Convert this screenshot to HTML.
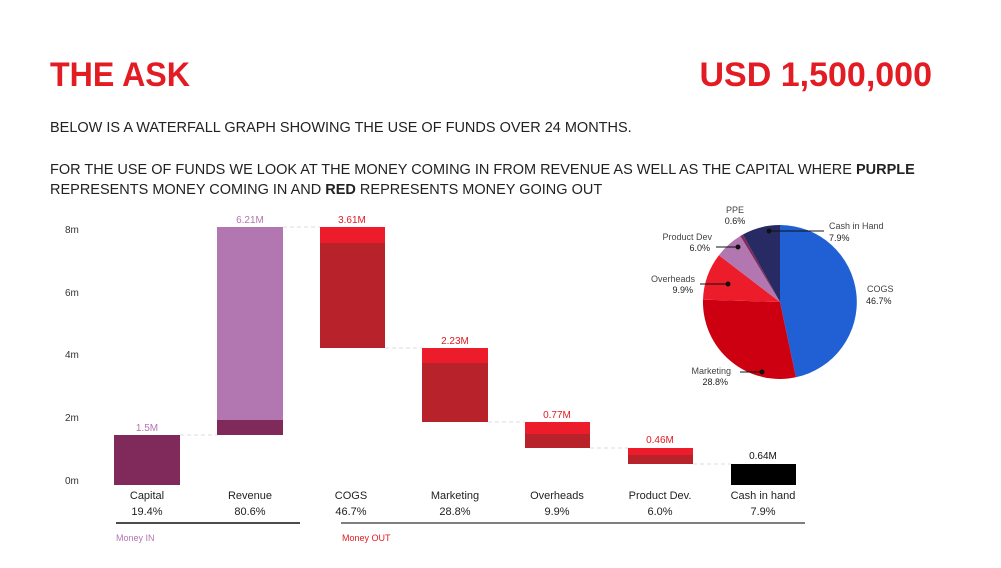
<!DOCTYPE html>
<html><head><meta charset="utf-8"><style>
body{margin:0;background:#fff;width:1001px;height:563px;overflow:hidden;font-family:"Liberation Sans",sans-serif}
</style></head><body>
<svg width="1001" height="563" xmlns="http://www.w3.org/2000/svg" font-family="Liberation Sans, sans-serif">
<text x="50" y="86" font-size="34" fill="#e31b23" font-weight="bold" textLength="140" lengthAdjust="spacingAndGlyphs">THE ASK</text>
<text x="932" y="86" font-size="34" fill="#e31b23" font-weight="bold" text-anchor="end">USD 1,500,000</text>
<text x="50" y="132" font-size="14.5" fill="#222">BELOW IS A WATERFALL GRAPH SHOWING THE USE OF FUNDS OVER 24 MONTHS.</text>
<text x="50" y="174" font-size="14.5" fill="#222">FOR THE USE OF FUNDS WE LOOK AT THE MONEY COMING IN FROM REVENUE AS WELL AS THE CAPITAL WHERE <tspan font-weight="bold">PURPLE</tspan></text>
<text x="50" y="194" font-size="14.5" fill="#222">REPRESENTS MONEY COMING IN AND <tspan font-weight="bold">RED</tspan> REPRESENTS MONEY GOING OUT</text>
<g font-size="10" fill="#333">
<text x="65" y="233">8m</text><text x="65" y="296">6m</text><text x="65" y="358">4m</text><text x="65" y="421">2m</text><text x="65" y="484">0m</text>
</g>
<g stroke="#ddd" stroke-dasharray="4,3" stroke-width="1">
<line x1="180" y1="435" x2="217" y2="435"/><line x1="283" y1="227" x2="320" y2="227"/>
<line x1="385" y1="348" x2="422" y2="348"/><line x1="488" y1="422" x2="525" y2="422"/>
<line x1="590" y1="448" x2="628" y2="448"/><line x1="693" y1="464" x2="731" y2="464"/>
</g>
<rect x="114" y="435" width="66" height="50" fill="#7f2a5b"/>
<rect x="217" y="227" width="66" height="193" fill="#b277b1"/>
<rect x="217" y="420" width="66" height="15" fill="#7f2a5b"/>
<rect x="320" y="227" width="65" height="121" fill="#b8232b"/>
<rect x="320" y="227" width="65" height="16" fill="#ec1c2a"/>
<rect x="422" y="348" width="66" height="74" fill="#b8232b"/>
<rect x="422" y="348" width="66" height="15" fill="#ec1c2a"/>
<rect x="525" y="422" width="65" height="26" fill="#b8232b"/>
<rect x="525" y="422" width="65" height="12" fill="#ec1c2a"/>
<rect x="628" y="448" width="65" height="16" fill="#b8232b"/>
<rect x="628" y="448" width="65" height="7" fill="#ec1c2a"/>
<rect x="731" y="464" width="65" height="21" fill="#000"/>
<g font-size="10" text-anchor="middle">
<text x="147" y="431" fill="#b277b1">1.5M</text>
<text x="250" y="223" fill="#b277b1">6.21M</text>
<text x="352" y="223" fill="#e31b23">3.61M</text>
<text x="455" y="344" fill="#e31b23">2.23M</text>
<text x="557" y="418" fill="#e31b23">0.77M</text>
<text x="660" y="443" fill="#e31b23">0.46M</text>
<text x="763" y="459" fill="#111">0.64M</text>
</g>
<g font-size="11" text-anchor="middle" fill="#222">
<text x="147" y="499">Capital</text><text x="147" y="515">19.4%</text>
<text x="250" y="499">Revenue</text><text x="250" y="515">80.6%</text>
<text x="351" y="499">COGS</text><text x="351" y="515">46.7%</text>
<text x="455" y="499">Marketing</text><text x="455" y="515">28.8%</text>
<text x="557" y="499">Overheads</text><text x="557" y="515">9.9%</text>
<text x="660" y="499">Product Dev.</text><text x="660" y="515">6.0%</text>
<text x="763" y="499">Cash in hand</text><text x="763" y="515">7.9%</text>
</g>
<line x1="116" y1="523" x2="300" y2="523" stroke="#111" stroke-width="1.5"/>
<line x1="341" y1="523" x2="805" y2="523" stroke="#555" stroke-width="1.5"/>
<text x="116" y="541" font-size="9" fill="#b277b1">Money IN</text>
<text x="342" y="541" font-size="9" fill="#e31b23">Money OUT</text>
<path d="M780,302 L780,225 A77,77 0 0 1 795.9,377.3 Z" fill="#2160d4"/>
<path d="M780,302 L795.9,377.3 A77,77 0 0 1 703,299.6 Z" fill="#cc0010"/>
<path d="M780,302 L703,299.6 A77,77 0 0 1 718.9,255.3 Z" fill="#ec1c2a"/>
<path d="M780,302 L718.9,255.3 A77,77 0 0 1 740.3,236 Z" fill="#b277b1"/>
<path d="M780,302 L740.3,236 A77,77 0 0 1 742.9,234.5 Z" fill="#7f2a5b"/>
<path d="M780,302 L742.9,234.5 A77,77 0 0 1 780,225 Z" fill="#272a63"/>
<g stroke="#111" stroke-width="1" fill="#111">
<line x1="769" y1="231" x2="824" y2="231"/><circle cx="769" cy="231" r="2"/>
<line x1="716" y1="247" x2="738" y2="247"/><circle cx="738" cy="247" r="2"/>
<line x1="700" y1="284" x2="728" y2="284"/><circle cx="728" cy="284" r="2"/>
<line x1="740" y1="372" x2="762" y2="372"/><circle cx="762" cy="372" r="2"/>
</g>
<g font-size="9" fill="#444">
<text x="735" y="213" text-anchor="middle">PPE</text><text x="735" y="224" text-anchor="middle" fill="#222">0.6%</text>
<text x="712" y="240" text-anchor="end">Product Dev</text><text x="710" y="251" text-anchor="end" fill="#222">6.0%</text>
<text x="695" y="282" text-anchor="end">Overheads</text><text x="693" y="293" text-anchor="end" fill="#222">9.9%</text>
<text x="829" y="229">Cash in Hand</text><text x="829" y="241" fill="#222">7.9%</text>
<text x="867" y="292">COGS</text><text x="866" y="304" fill="#222">46.7%</text>
<text x="731" y="374" text-anchor="end">Marketing</text><text x="728" y="385" text-anchor="end" fill="#222">28.8%</text>
</g>
</svg>
</body></html>
